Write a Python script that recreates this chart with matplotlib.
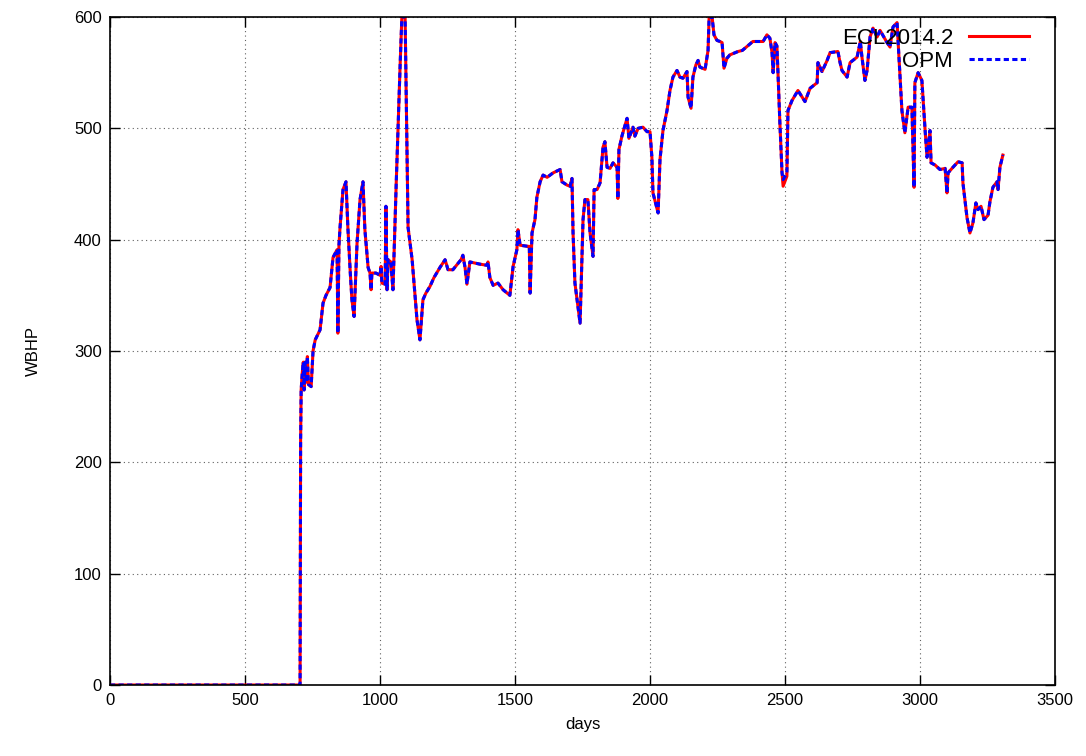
import matplotlib
matplotlib.use("Agg")
import matplotlib.pyplot as plt

# -- data (days, bar) ---------------------------------------------------------
days = [
    0, 700, 704, 706, 708, 712, 716, 719, 723, 727, 731, 735, 745, 752, 760,
    778, 789, 800, 815, 826, 841, 844, 848, 852, 863, 874, 881, 890, 896, 904,
    915, 926, 937, 944, 956, 963, 967, 970, 985, 1000, 1004, 1007, 1019, 1022,
    1026, 1030, 1040, 1048, 1060, 1075, 1081, 1093, 1104, 1119, 1137, 1148,
    1159, 1170, 1185, 1200, 1222, 1241, 1252, 1270, 1300, 1307, 1315, 1322,
    1333, 1370, 1396, 1400, 1407, 1419, 1437, 1456, 1481, 1493, 1507, 1511,
    1519, 1548, 1553, 1556, 1563, 1574, 1581, 1593, 1604, 1619, 1641, 1667,
    1674, 1693, 1704, 1711, 1715, 1722, 1741, 1748, 1752, 1759, 1770, 1778,
    1789, 1793, 1804, 1815, 1826, 1833, 1841, 1852, 1863, 1878, 1881, 1885,
    1896, 1915, 1922, 1937, 1944, 1956, 1974, 1989, 2000, 2007, 2011, 2030,
    2037, 2048, 2063, 2074, 2085, 2100, 2111, 2122, 2137, 2141, 2152, 2159,
    2170, 2178, 2185, 2204, 2211, 2215, 2219, 2230, 2237, 2248, 2259, 2267,
    2274, 2285, 2296, 2326, 2342, 2381, 2419, 2433, 2444, 2452, 2456, 2463,
    2470, 2474, 2481, 2489, 2493, 2507, 2511, 2526, 2548, 2574, 2593, 2619,
    2622, 2637, 2656, 2667, 2696, 2704, 2711, 2730, 2741, 2767, 2779, 2785,
    2796, 2804, 2815, 2826, 2841, 2852, 2878, 2889, 2900, 2915, 2926, 2933,
    2944, 2956, 2970, 2978, 2981, 2993, 3007, 3019, 3026, 3037, 3041, 3056,
    3074, 3093, 3100, 3104, 3122, 3141, 3156, 3159, 3174, 3185, 3196, 3207,
    3215, 3226, 3237, 3252, 3259, 3270, 3285, 3289, 3296, 3307,
]
ecl_wbhp = [
    0, 0, 0, 220, 265, 280, 290, 265, 290, 272, 295, 270, 268, 300, 310,
    319, 343, 350, 357, 384, 391, 316, 395, 411, 445, 452, 411, 370, 346, 331,
    397, 436, 452, 409, 375, 370, 355, 370, 370, 368, 376, 361, 360, 430,
    355, 382, 380, 355, 450, 560, 600, 600, 411, 382, 328, 310,
    346, 352, 358, 366, 375, 382, 373, 373, 382, 386, 375, 360,
    380, 378, 377, 380, 366, 359, 361, 355, 350, 376, 391, 409,
    395, 394, 394, 352, 406, 418, 438, 452, 458, 456, 460, 463,
    452, 449, 448, 455, 406, 361, 325, 384, 418, 436, 436, 406,
    385, 445, 445, 451, 483, 488, 465, 464, 469, 465, 437, 481,
    493, 509, 491, 501, 493, 500, 501, 497, 497, 474, 442, 424,
    472, 498, 516, 534, 546, 552, 546, 545, 551, 528, 518, 546,
    557, 561, 555, 553, 564, 570, 600, 600, 584, 579, 578, 577,
    554, 563, 566, 569, 570, 578, 578, 584, 581, 568, 550, 577,
    574, 550, 505, 460, 448, 457, 516, 525, 534, 524, 536, 541,
    559, 551, 561, 568, 569, 559, 552, 546, 559, 564, 578, 564,
    543, 552, 582, 590, 582, 588, 577, 573, 591, 595, 546, 516,
    496, 519, 519, 447, 541, 550, 543, 498, 474, 498, 469, 467,
    463, 464, 442, 460, 465, 470, 469, 451, 420, 406, 415, 433,
    427, 430, 418, 422, 434, 447, 452, 445, 465, 476,
]
# OPM tracks ECL almost exactly; only a couple of points differ
opm_wbhp = list(ecl_wbhp)
opm_wbhp[days.index(2493)] = 454
opm_wbhp[days.index(2507)] = 460

plt.rcParams["font.family"] = ["Liberation Sans", "DejaVu Sans"]

fig = plt.figure(figsize=(10.86, 7.56), dpi=100)
ax = fig.add_axes([110 / 1086, 71 / 756, 945 / 1086, 668 / 756])

ax.plot(days, ecl_wbhp, color="#ff0000", lw=2.2, label="ECL2014.2")
ax.plot(days, opm_wbhp, color="#0000ff", lw=2.2, label="OPM",
        linestyle=(0, (1.7, 1.1)))

ax.set_xlim(0, 3500)
ax.set_ylim(0, 600)
ax.set_xticks(range(0, 3501, 500))
ax.set_yticks(range(0, 601, 100))
ax.grid(True, color="#606060", linestyle=(0, (1, 3)), lw=0.8)
ax.tick_params(direction="in", length=7, width=1, top=True, right=True,
               labelsize=12, pad=6, colors="black")
for sp in ax.spines.values():
    sp.set_linewidth(1.2)

ax.set_xlabel("days", fontsize=12, labelpad=6)
ax.set_ylabel("WBHP", fontsize=12, labelpad=24)

ax.legend(loc="upper right", frameon=False, markerfirst=False, fontsize=16,
          handlelength=2.7, handletextpad=0.7, labelspacing=0.08,
          borderaxespad=0.2, borderpad=0.3, bbox_to_anchor=(0.984, 1.0))

fig.savefig("out.png", dpi=100)
